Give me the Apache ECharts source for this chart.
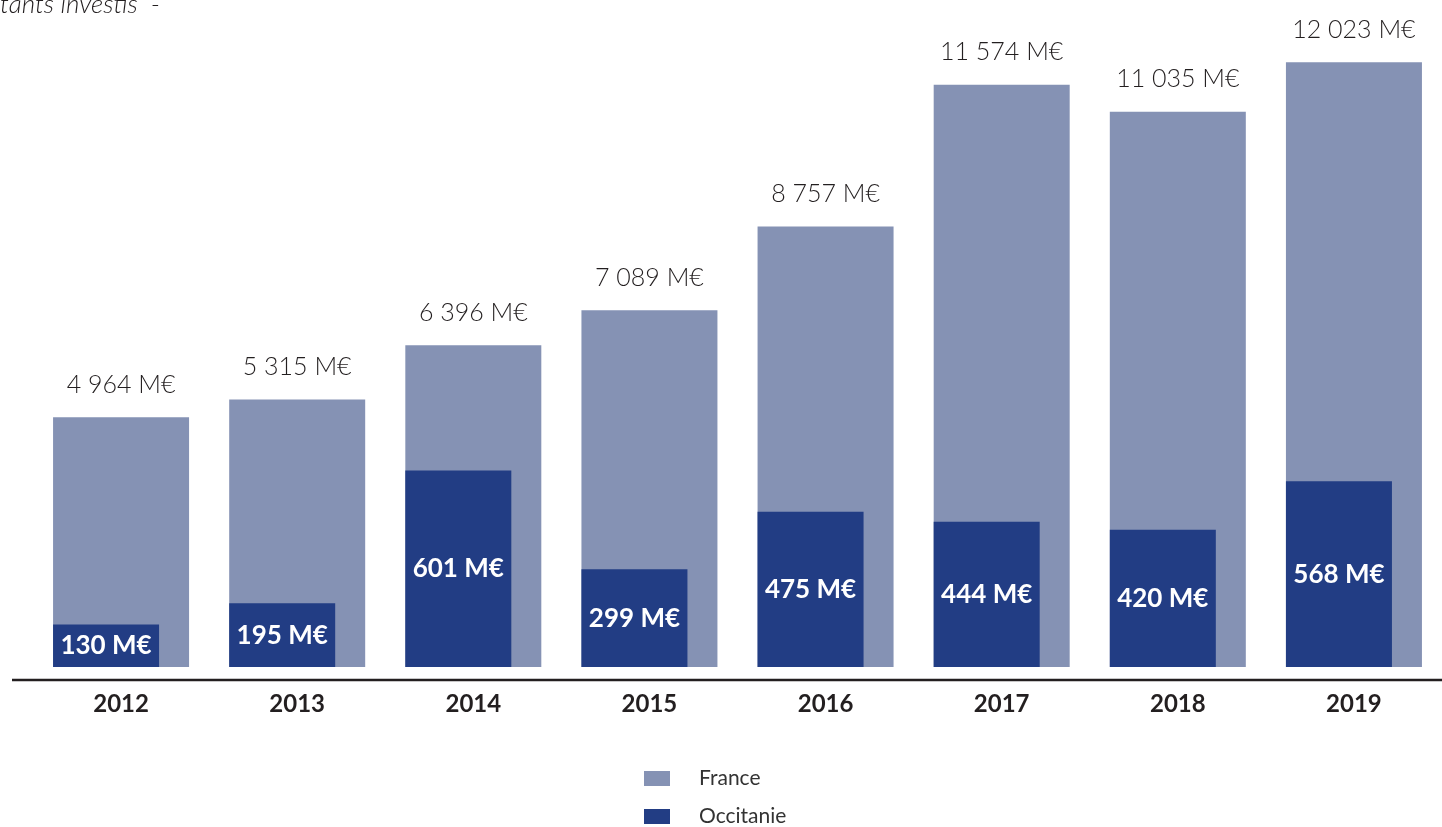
<!DOCTYPE html>
<html>
<head>
<meta charset="utf-8">
<script src="https://cdn.jsdelivr.net/npm/echarts@6/dist/echarts.min.js"></script>
<style>
  html, body { margin: 0; padding: 0; background: #fff; }
  #chart { width: 1442px; height: 827px; }
</style>
</head>
<body>
<div id="chart"></div>
<script>
var years = ['2012', '2013', '2014', '2015', '2016', '2017', '2018', '2019']
var france = [4964, 5315, 6396, 7089, 8757, 11574, 11035, 12023]
var occitanie = [130, 195, 601, 299, 475, 444, 420, 568]

var fontFamily = 'Lato, "Noto Sans", sans-serif'

function fmt(v) {
    return String(v).replace(/\B(?=(\d{3})+(?!\d))/g, ' ') + ' M€'
}

var chart = echarts.init(document.getElementById('chart'))

var options = {
    animation: false,
    grid: {
        left: 33,
        right: -1,
        top: 13,
        bottom: 160,
        containLabel: false
    },
    legend: {
        orient: 'vertical',
        left: 644,
        top: 768,
        padding: 0,
        itemWidth: 26,
        itemHeight: 15,
        itemGap: 17,
        icon: 'rect',
        data: ['France', 'Occitanie'],
        textStyle: {
            fontFamily: fontFamily,
            fontSize: 21,
            lineHeight: 21,
            color: '#333',
            padding: [0, 0, 0, 24]
        }
    },
    xAxis: {
        type: 'category',
        data: years,
        axisLine: { show: false },
        axisTick: { show: false },
        axisLabel: {
            margin: 25,
            fontFamily: fontFamily,
            fontSize: 24,
            fontWeight: 'bold',
            color: '#231f20'
        }
    },
    yAxis: [{
        type: 'value',
        min: 0,
        max: 13000,
        show: false,
        splitLine: { show: false }
    }, {
        type: 'value',
        min: 0,
        max: 2000,
        show: false,
        splitLine: { show: false }
    }],
    graphic: [{
        type: 'line',
        shape: { x1: 12, y1: 680, x2: 1442, y2: 680 },
        style: { stroke: '#231f20', lineWidth: 2.5 }
    }, {
        type: 'text',
        x: 160,
        y: 18,
        style: {
            text: '- Montants investis  -',
            font: 'italic 300 26px ' + fontFamily,
            fill: '#231f20',
            align: 'right',
            verticalAlign: 'bottom'
        }
    }],
    series: [{
        name: 'Occitanie',
        type: 'bar',
        yAxisIndex: 1,
        data: occitanie,
        barWidth: 106,
        barGap: '-100%',
        z: 3,
        itemStyle: { color: '#223d84' },
        label: {
            show: true,
            position: 'inside',
            formatter: function(p) { return fmt(p.value) },
            fontFamily: fontFamily,
            fontSize: 26,
            fontWeight: 'bold',
            color: '#fff'
        }
    }, {
        name: 'France',
        type: 'bar',
        yAxisIndex: 0,
        data: france,
        barWidth: 136,
        barGap: '-100%',
        z: 2,
        itemStyle: { color: '#8592b4' },
        label: {
            show: true,
            position: 'top',
            distance: 20,
            formatter: function(p) { return fmt(p.value) },
            fontFamily: fontFamily,
            fontSize: 25,
            fontWeight: 300,
            color: '#231f20'
        }
    }]
}

chart.setOption(options)
</script>
</body>
</html>
